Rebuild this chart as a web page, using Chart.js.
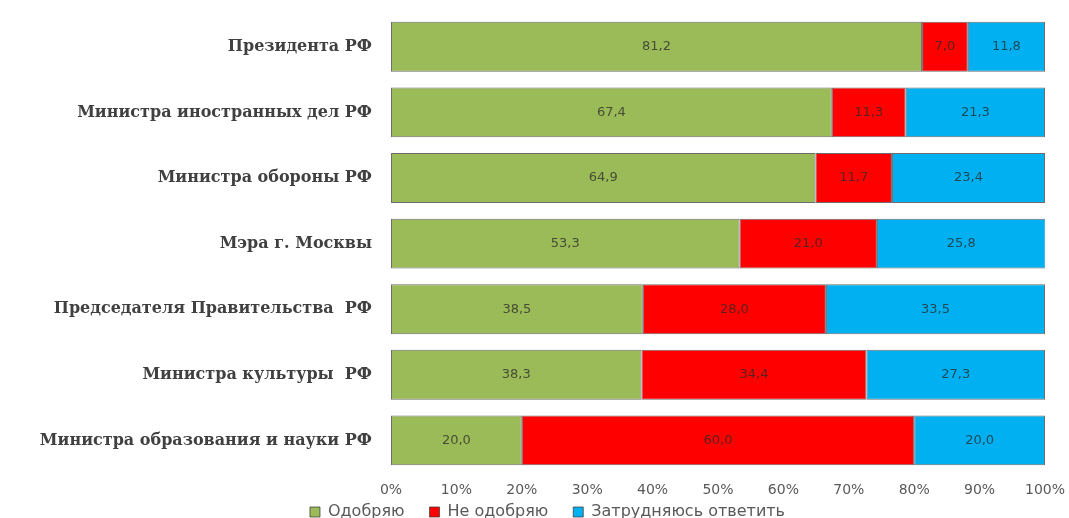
<!DOCTYPE html>
<html>
<head>
<meta charset="utf-8">
<script src="https://cdn.jsdelivr.net/npm/chart.js@4/dist/chart.umd.min.js"></script>
<style>
  body { margin: 0; background: #fff; }
</style>
</head>
<body>
<canvas id="chart" width="1069" height="518"></canvas>
<script>
const categories = [
    'Президента РФ',
    'Министра иностранных дел РФ',
    'Министра обороны РФ',
    'Мэра г. Москвы',
    'Председателя Правительства  РФ',
    'Министра культуры  РФ',
    'Министра образования и науки РФ'
];
const approve = [81.2, 67.4, 64.9, 53.3, 38.5, 38.3, 20.0];
const disapprove = [7.0, 11.3, 11.7, 21.0, 28.0, 34.4, 60.0];
const undecided = [11.8, 21.3, 23.4, 25.8, 33.5, 27.3, 20.0];
const seriesNames = ['Одобряю', 'Не одобряю', 'Затрудняюсь ответить'];

// value labels in the middle of each segment, comma decimals
const segmentLabels = {
    id: 'segmentLabels',
    afterDatasetsDraw(chart) {
        const ctx = chart.ctx;
        ctx.save();
        ctx.font = '13px "DejaVu Sans"';
        ctx.fillStyle = 'rgba(40,40,40,0.75)';
        ctx.textAlign = 'center';
        ctx.textBaseline = 'middle';
        chart.data.datasets.forEach((ds, i) => {
            chart.getDatasetMeta(i).data.forEach((bar, j) => {
                const x = (bar.x + bar.base) / 2;
                ctx.fillText(ds.data[j].toFixed(1).replace('.', ','), x, bar.y);
            });
        });
        ctx.restore();
    }
};

// legend takes little room in the layout (so the axis keeps its space),
// then gets moved into place so it can keep wide gaps between items
const tightLegend = {
    id: 'tightLegend',
    afterInit(chart) {
        const legend = chart.legend;
        const fit = legend.fit;
        legend.fit = function () {
            fit.call(this);
            this.height = 10;
        };
    },
    afterLayout(chart) {
        const legend = chart.legend;
        legend.top = chart.height - 39;
        legend.bottom = chart.height;
        legend.left += 25;
        legend.right += 25;
    }
};

new Chart(document.getElementById('chart'), {
    type: 'bar',
    data: {
        labels: categories,
        datasets: [
            { label: seriesNames[0], data: approve, backgroundColor: '#9BBB59' },
            { label: seriesNames[1], data: disapprove, backgroundColor: '#FF0000' },
            { label: seriesNames[2], data: undecided, backgroundColor: '#00B0F0' }
        ].map(d => Object.assign(d, {
            borderColor: 'rgba(60,60,60,0.75)',
            borderWidth: 1,
            borderSkipped: false,
            barPercentage: 0.76,
            categoryPercentage: 1
        }))
    },
    options: {
        indexAxis: 'y',
        responsive: false,
        animation: false,
        devicePixelRatio: 1,
        layout: { padding: { top: 14, right: 24, left: 0, bottom: 0 } },
        plugins: {
            legend: {
                position: 'bottom',
                labels: {
                    boxWidth: 10,
                    boxHeight: 10,
                    padding: 25,
                    color: '#595959',
                    font: { family: '"DejaVu Sans"', size: 16 }
                }
            },
            tooltip: { enabled: false }
        },
        scales: {
            x: {
                stacked: true,
                min: 0,
                max: 100,
                grid: { display: false, drawTicks: false },
                border: { display: false },
                afterFit: s => { s.paddingLeft = 0; s.paddingRight = 0; },
                ticks: {
                    stepSize: 10,
                    padding: 9,
                    color: '#595959',
                    font: { family: '"DejaVu Sans"', size: 14 },
                    callback: v => v + '%'
                }
            },
            y: {
                stacked: true,
                grid: { display: false, drawTicks: false },
                border: { display: false },
                afterFit: s => { s.width = 391; s.paddingTop = 0; s.paddingBottom = 0; },
                ticks: {
                    padding: 19,
                    color: '#404040',
                    font: { family: '"DejaVu Serif"', size: 16, weight: 'bold' }
                }
            }
        }
    },
    plugins: [segmentLabels, tightLegend]
});
</script>
</body>
</html>
